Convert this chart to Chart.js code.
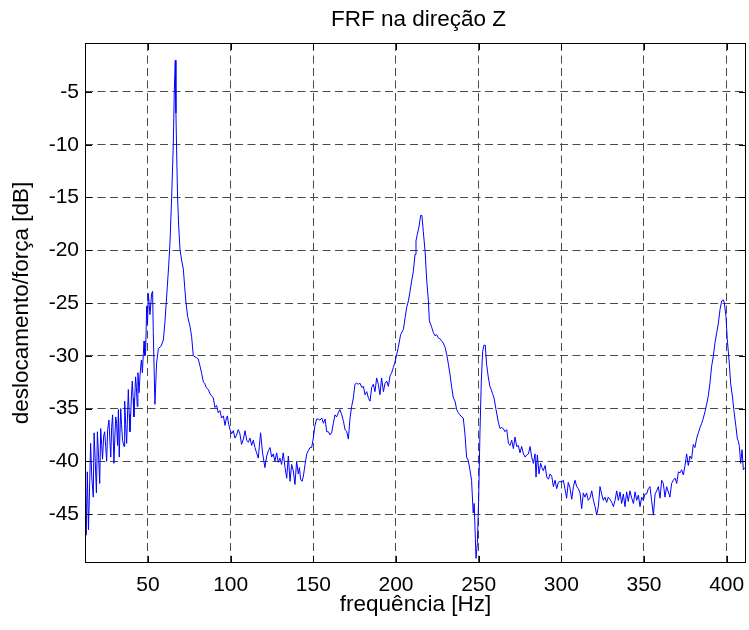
<!DOCTYPE html>
<html>
<head>
<meta charset="utf-8">
<script src="https://cdn.jsdelivr.net/npm/chart.js@4.4.1/dist/chart.umd.min.js"></script>
<style>
  body { margin: 0; background: #fff; }
  canvas { display: block; }
</style>
</head>
<body>
<canvas id="frf" width="749" height="630"></canvas>
<script>
// FRF data: frequency [Hz] and magnitude [dB]
const FREQ = [
  12.0, 12.6, 13.3, 14.0, 14.6, 15.3, 16.0, 16.9, 17.4, 18.1, 18.8, 19.4, 20.1, 20.8, 21.4, 22.0, 22.5, 23.2, 23.8, 24.4,
  25.0, 25.6, 26.4, 27.0, 27.5, 28.0, 28.6, 29.4, 30.0, 30.5, 31.0, 31.6, 32.1, 32.6, 33.5, 34.0, 34.6, 35.5, 35.9, 36.5,
  37.1, 38.1, 38.6, 39.1, 40.0, 40.5, 41.0, 41.5, 42.5, 43.0, 43.5, 43.9, 44.6, 45.2, 46.0, 46.6, 47.2, 47.6, 48.1, 48.6,
  49.2, 49.7, 50.2, 51.2, 52.2, 52.8, 53.2, 54.2, 55.2, 56.3, 57.9, 59.3, 60.3, 60.9, 61.7, 62.5, 63.3, 64.3, 65.3, 65.9,
  66.5, 66.9, 67.3, 67.9, 68.6, 69.4, 70.4, 71.4, 72.2, 73.0, 74.0, 75.4, 76.4, 77.4, 78.5, 79.5, 80.4, 81.5, 82.5, 83.5,
  84.3, 85.1, 86.5, 87.5, 88.5, 89.5, 90.5, 91.5, 92.5, 93.5, 94.5, 95.6, 96.6, 97.3, 98.0, 98.8, 99.6, 100.6, 101.6, 102.6,
  103.6, 104.6, 105.6, 106.6, 107.7, 108.7, 109.7, 110.7, 111.7, 112.7, 113.7, 114.7, 115.7, 116.7, 117.4, 118.1, 119.3, 120.7, 121.8, 122.8,
  123.8, 124.8, 125.8, 126.8, 127.8, 128.8, 129.8, 130.8, 131.8, 132.9, 133.9, 134.9, 135.9, 136.9, 137.9, 138.9, 139.9, 140.9, 141.6, 142.3,
  143.2, 144.0, 145.0, 146.0, 147.0, 148.0, 149.0, 150.0, 151.0, 152.0, 153.0, 154.0, 155.1, 156.1, 157.1, 158.1, 159.1, 160.1, 161.1, 162.1,
  163.1, 164.1, 165.1, 166.1, 167.2, 168.2, 169.2, 170.2, 171.2, 172.2, 173.2, 174.2, 175.2, 176.2, 177.2, 178.2, 179.3, 180.3, 181.3, 182.3,
  183.3, 184.3, 185.3, 186.3, 187.3, 188.3, 189.3, 190.3, 191.3, 192.4, 193.4, 194.4, 195.4, 196.4, 197.4, 198.4, 199.2, 200.0, 201.4, 202.8,
  204.5, 205.5, 206.5, 207.5, 208.5, 209.5, 210.5, 211.5, 212.1, 212.9, 213.9, 214.9, 215.7, 216.5, 217.6, 218.6, 219.6, 220.2, 221.6, 222.6,
  223.6, 224.6, 225.6, 226.6, 227.6, 228.6, 229.7, 230.7, 231.7, 232.7, 233.7, 234.7, 235.7, 236.7, 237.7, 238.7, 239.7, 240.7, 241.7, 242.7,
  243.7, 244.7, 245.7, 246.7, 247.3, 247.9, 248.4, 249.2, 250.0, 250.8, 251.6, 252.4, 253.2, 254.0, 254.8, 255.8, 256.8, 257.6, 258.4, 259.3,
  260.5, 261.9, 262.9, 263.9, 264.9, 265.9, 267.0, 268.0, 269.0, 270.0, 271.0, 272.0, 273.0, 274.0, 275.0, 276.0, 277.1, 278.1, 279.1, 280.1,
  281.1, 282.1, 283.1, 284.1, 284.7, 285.5, 286.5, 287.5, 288.3, 289.1, 290.2, 291.2, 292.2, 293.2, 294.2, 295.2, 296.2, 297.2, 298.2, 299.2,
  300.2, 301.2, 302.2, 303.2, 304.2, 305.2, 306.3, 307.3, 308.3, 309.3, 310.3, 311.3, 312.3, 313.3, 314.3, 315.3, 316.3, 317.3, 318.4, 319.4,
  320.4, 321.4, 322.4, 323.4, 324.4, 325.4, 326.4, 327.4, 328.4, 329.4, 330.5, 331.5, 332.5, 333.5, 334.5, 335.5, 336.5, 337.5, 338.5, 339.5,
  340.5, 341.5, 342.6, 343.6, 344.6, 345.6, 346.6, 347.6, 348.6, 349.6, 350.6, 351.6, 352.6, 353.6, 354.6, 355.7, 356.7, 357.7, 358.7, 359.7,
  360.7, 361.7, 362.7, 363.7, 364.7, 365.7, 366.7, 367.7, 368.8, 369.8, 370.8, 371.8, 372.8, 373.8, 374.8, 375.8, 376.8, 377.8, 378.8, 379.8,
  380.8, 381.9, 382.9, 383.9, 384.9, 385.9, 386.9, 387.9, 388.9, 389.9, 390.9, 391.9, 392.9, 394.0, 395.0, 396.0, 397.0, 398.0, 398.6, 399.6,
  400.4, 401.6, 402.4, 403.6, 404.4, 405.6, 406.5, 407.1, 407.7, 408.5, 409.3, 410.1, 411.1
];
const FRF_DB = [
  -40.0, -47.0, -41.0, -46.5, -43.0, -38.3, -41.5, -43.4, -37.3, -40.0, -43.0, -37.2, -39.5, -42.1, -36.9, -38.5, -39.8, -37.6, -37.2, -38.6,
  -40.0, -37.0, -36.1, -38.2, -39.6, -36.8, -35.6, -40.2, -37.5, -35.8, -36.4, -38.5, -35.1, -39.6, -35.0, -36.5, -38.0, -38.6, -34.3, -36.5,
  -38.3, -33.2, -35.5, -37.2, -33.8, -32.4, -34.0, -35.8, -32.0, -33.0, -34.8, -31.6, -33.5, -31.8, -30.4, -31.6, -29.8, -28.6, -30.0, -29.6,
  -25.3, -27.0, -24.1, -26.1, -24.1, -23.9, -27.8, -34.6, -30.7, -29.3, -29.1, -28.5, -26.7, -25.3, -23.4, -21.5, -19.3, -15.0, -10.0, -5.0,
  -2.0, -7.0, -10.5, -15.0, -17.8, -20.0, -21.0, -21.8, -23.5, -25.0, -26.3, -27.2, -28.2, -30.0, -30.1, -30.2, -30.3, -31.0, -31.7, -32.5,
  -32.6, -33.0, -33.2, -33.6, -33.8, -34.0, -34.9, -34.7, -35.4, -35.2, -35.9, -35.7, -36.6, -36.0, -35.7, -36.5, -37.0, -37.4, -37.1, -37.8,
  -37.5, -37.0, -37.4, -38.4, -37.9, -37.1, -38.0, -38.2, -37.8, -38.5, -38.0, -38.7, -39.2, -39.7, -38.5, -37.3, -39.2, -40.6, -39.5, -39.0,
  -38.7, -39.6, -39.3, -40.0, -39.2, -40.1, -39.7, -40.3, -39.2, -40.6, -41.6, -39.5, -41.9, -40.3, -40.9, -42.2, -40.0, -41.2, -40.6, -41.7,
  -41.9, -41.4, -40.3, -39.3, -39.0, -38.7, -38.7, -37.8, -36.6, -36.0, -36.0, -36.1, -35.9, -36.4, -36.0, -37.2, -37.2, -37.5, -37.3, -36.4,
  -35.6, -35.8, -35.4, -35.1, -35.6, -36.2, -37.0, -37.2, -37.9, -35.9, -34.8, -34.0, -32.7, -32.6, -32.7, -32.6, -33.0, -32.9, -33.7, -33.4,
  -34.0, -34.3, -33.0, -32.7, -33.4, -32.1, -32.7, -33.7, -32.1, -33.4, -32.6, -32.4, -32.9, -31.9, -31.6, -31.1, -30.7, -30.2, -29.2, -28.0,
  -27.5, -26.4, -25.4, -24.8, -23.9, -22.9, -22.0, -20.4, -19.1, -18.5, -17.8, -16.7, -16.7, -18.2, -20.1, -22.9, -24.8, -26.7, -27.3, -27.8,
  -28.1, -28.0, -28.3, -28.4, -28.6, -28.8, -29.2, -29.9, -30.8, -31.8, -33.0, -34.0, -34.3, -35.1, -35.4, -35.6, -35.8, -35.9, -37.4, -39.6,
  -39.9, -40.8, -41.8, -44.9, -44.0, -46.8, -49.2, -47.8, -43.6, -37.2, -32.4, -29.6, -29.0, -29.0, -30.8, -32.0, -32.9, -33.2, -33.6, -34.0,
  -35.1, -36.3, -36.9, -36.8, -36.9, -37.2, -37.0, -38.3, -38.5, -38.0, -38.8, -37.7, -38.6, -38.5, -39.2, -38.6, -39.3, -39.6, -39.4, -39.3,
  -38.6, -39.6, -40.2, -39.3, -41.5, -39.4, -41.2, -40.2, -40.6, -40.9, -40.4, -41.5, -41.7, -41.2, -41.4, -42.4, -41.8, -42.6, -42.0, -41.9,
  -42.0, -41.8, -42.6, -43.5, -42.0, -42.5, -43.6, -42.4, -41.8, -42.4, -42.6, -43.0, -44.5, -43.0, -43.4, -43.0, -43.7, -43.5, -42.8, -43.7,
  -44.3, -45.1, -44.3, -42.4, -43.1, -43.7, -43.4, -43.9, -43.4, -43.6, -43.9, -44.3, -43.7, -42.8, -43.7, -42.9, -44.0, -43.1, -44.3, -42.9,
  -43.8, -42.8, -43.5, -44.0, -42.9, -43.7, -43.2, -44.3, -43.4, -43.7, -43.1, -43.1, -42.6, -42.4, -43.7, -45.1, -43.1, -42.8, -42.4, -43.5,
  -41.8, -42.1, -43.4, -42.4, -42.9, -43.4, -42.1, -41.8, -41.6, -42.1, -41.0, -41.1, -40.8, -41.3, -40.4, -39.3, -40.4, -39.5, -39.8, -38.4,
  -38.7, -37.8, -37.3, -36.8, -36.4, -35.9, -35.3, -34.6, -33.8, -32.6, -31.0, -30.1, -28.8, -27.8, -26.9, -25.6, -24.8, -24.7, -25.0, -26.3,
  -28.5, -30.7, -32.6, -34.0, -35.2, -36.7, -37.9, -38.1, -38.6, -40.2, -38.9, -40.8, -40.6
];
const X_TICKS = [50, 100, 150, 200, 250, 300, 350, 400];
const Y_TICKS = [-45, -40, -35, -30, -25, -20, -15, -10, -5];

const FONT = '"Liberation Sans", Arial, sans-serif';
const TICK_LEN = 7;

// box round the axes, inner tick marks on all four sides, and the title
const matlabFrame = {
  id: 'matlabFrame',
  afterDraw(chart) {
    const { ctx, chartArea: a, scales } = chart;
    ctx.save();
    ctx.strokeStyle = '#000';
    ctx.lineWidth = 1;
    ctx.beginPath();
    X_TICKS.forEach(v => {
      const px = Math.round(scales.x.getPixelForValue(v)) + 0.5;
      ctx.moveTo(px, a.bottom); ctx.lineTo(px, a.bottom - TICK_LEN);
      ctx.moveTo(px, a.top); ctx.lineTo(px, a.top + TICK_LEN);
    });
    Y_TICKS.forEach(v => {
      const py = Math.round(scales.y.getPixelForValue(v)) + 0.5;
      ctx.moveTo(a.left, py); ctx.lineTo(a.left + TICK_LEN, py);
      ctx.moveTo(a.right, py); ctx.lineTo(a.right - TICK_LEN, py);
    });
    ctx.stroke();
    ctx.strokeRect(a.left + 0.5, a.top + 0.5, a.right - a.left - 1, a.bottom - a.top - 1);

    ctx.fillStyle = '#000';
    ctx.font = '22.5px ' + FONT;
    ctx.textAlign = 'center';
    ctx.textBaseline = 'alphabetic';
    ctx.fillText('FRF na direção Z', (a.left + a.right) / 2 + 3, 26);
    ctx.restore();
  }
};

const points = FREQ.map((f, i) => ({ x: f, y: FRF_DB[i] }));

new Chart(document.getElementById('frf'), {
  type: 'line',
  data: {
    datasets: [{
      data: points,
      borderColor: '#0000ff',
      borderWidth: 1,
      pointRadius: 0,
      tension: 0,
      fill: false
    }]
  },
  options: {
    responsive: false,
    animation: false,
    devicePixelRatio: 1,
    layout: { padding: { top: 43, right: 3, left: 0, bottom: 0 } },
    plugins: { legend: { display: false }, tooltip: { enabled: false } },
    scales: {
      x: {
        type: 'linear',
        min: 11.9,
        max: 411.7,
        afterBuildTicks: s => { s.ticks = X_TICKS.map(v => ({ value: v })); },
        afterFit: s => { s.height = 67; s.paddingLeft = 0; s.paddingRight = 0; },
        ticks: { color: '#000', font: { family: FONT, size: 21 }, padding: 10, maxRotation: 0 },
        grid: { color: '#4a4a4a', lineWidth: 1, drawTicks: false },
        border: { display: false, dash: [8, 4.5] },
        title: { display: true, text: 'frequência [Hz]', color: '#000', font: { family: FONT, size: 22.5 }, padding: { top: 0, bottom: 12 } }
      },
      y: {
        type: 'linear',
        min: -49.64,
        max: -0.36,
        afterBuildTicks: s => { s.ticks = Y_TICKS.map(v => ({ value: v })); },
        afterFit: s => { s.width = 85; s.paddingTop = 0; s.paddingBottom = 0; },
        ticks: { color: '#000', font: { family: FONT, size: 21 }, padding: 6 },
        grid: { color: '#4a4a4a', lineWidth: 1, drawTicks: false },
        border: { display: false, dash: [8, 4.5] },
        title: { display: true, text: 'deslocamento/força [dB]', color: '#000', font: { family: FONT, size: 22.5 }, padding: { top: 8, bottom: 0 } }
      }
    }
  },
  plugins: [matlabFrame]
});
</script>
</body>
</html>
